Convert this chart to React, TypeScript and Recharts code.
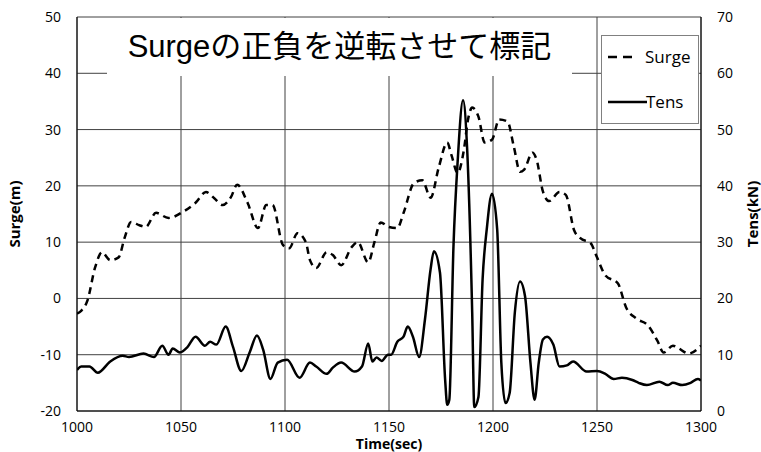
import React from "react"
import {
  LineChart,
  Line,
  XAxis,
  YAxis,
  CartesianGrid,
  Label,
} from "recharts"

// Surge (m), sign already flipped
const surgeTime = [
  1000, 1002, 1005, 1008.7, 1012, 1016, 1020, 1023, 1026, 1030, 1033, 1038, 1044, 1051, 1057, 1062,
  1066, 1070, 1074, 1077, 1082, 1087, 1091, 1094, 1099, 1102, 1106, 1110, 1112, 1115, 1120, 1123,
  1127, 1132, 1135, 1140, 1143, 1146, 1150, 1154, 1157, 1162, 1166, 1170, 1174, 1178, 1180, 1183,
  1186, 1188, 1190, 1193, 1196, 1199.5, 1203, 1207, 1210, 1213, 1215, 1219, 1221, 1224, 1227, 1232,
  1235, 1239, 1242, 1247, 1250, 1254, 1260, 1264, 1269, 1274.5, 1279, 1282, 1286.5, 1289, 1294, 1300,
]
const surgeValue = [
  -2.7, -2.2, -0.4, 5.5, 8.2, 6.8, 7.3, 10.9, 13.6, 13.0, 12.7, 15.2, 14.3, 15.4, 17, 18.9,
  17.8, 16.6, 18, 20.2, 17, 12.5, 16.6, 16.6, 9.5, 8.9, 11.6, 10, 6.8, 5.4, 8.2, 7.7,
  5.9, 9.1, 10, 6.4, 10, 13.5, 12.7, 12.5, 15.2, 20.5, 21, 17.9, 23.4, 27.7, 25.5, 22.3,
  26.4, 31.8, 33.9, 32.3, 27.7, 28.2, 31.8, 31.4, 27, 22.5, 22.9, 25.9, 24.6, 19, 17.3, 18.9,
  18.4, 12.1, 10.7, 9.8, 7.3, 4.1, 2.7, -1.6, -3.6, -4.8, -7.5, -9.6, -8.4, -8.8, -9.8, -8.4,
]

// Tension (kN)
const tensTime = [
  1000, 1002, 1006, 1010, 1016, 1022, 1025, 1032, 1037, 1041, 1044, 1046, 1049.5, 1053, 1057, 1061.5,
  1064, 1067, 1071.5, 1075, 1079, 1083, 1086.5, 1089.5, 1093, 1096.5, 1101, 1107, 1112, 1115, 1120, 1123,
  1127, 1133.5, 1137, 1140, 1142, 1144, 1146.5, 1149.5, 1151, 1154, 1157, 1159, 1161.5, 1164.5, 1167.3, 1170,
  1171.6, 1174.5, 1177, 1178, 1179, 1181, 1183, 1185.6, 1187.5, 1190, 1191, 1193, 1195, 1197, 1199.5, 1202,
  1204, 1206, 1208, 1210.5, 1213, 1215.4, 1218, 1220, 1222, 1224, 1226, 1229, 1232, 1235.5, 1238.5, 1245,
  1250, 1254, 1258, 1262, 1267, 1270, 1274, 1280, 1284, 1286.5, 1291, 1295, 1298.5, 1300,
]
const tensValue = [
  7.3, 7.9, 7.9, 6.8, 8.8, 9.8, 9.6, 10.2, 9.6, 11.6, 10, 11.1, 10.4, 11.3, 13.2, 11.6,
  12.3, 11.8, 15, 11.4, 7.1, 10.4, 13.4, 10.9, 5.7, 8.6, 9.1, 5.9, 8.6, 7.9, 6.6, 7.7,
  8.6, 7, 7.9, 12, 8.8, 9.5, 8.9, 10, 10, 12.3, 13.2, 15, 13.2, 9.6, 16.3, 25.2,
  28.4, 24.6, 5.5, 1.1, 2, 29.3, 44.3, 55.2, 47.1, 17.5, 0.7, 2.5, 23.4, 32.3, 38.6, 32.3,
  8.6, 1.4, 3.2, 17.5, 23, 20.4, 8.6, 2, 8.6, 12.7, 13.2, 11.8, 7.9, 8.1, 8.8, 7,
  7.1, 6.6, 5.7, 5.9, 5.5, 5, 4.6, 5.2, 4.6, 5, 4.6, 5.0, 5.7, 5.4,
]

const xTicks = [1000, 1050, 1100, 1150, 1200, 1250, 1300]
const surgeTicks = [-20, -10, 0, 10, 20, 30, 40, 50]
const tensTicks = [0, 10, 20, 30, 40, 50, 60, 70]

const legendItems = [
  { name: "Surge", dash: "9 6", len: 30, gap: 3 },
  { name: "Tens", dash: undefined, len: 40, gap: -6 },
]

const surgeData = surgeTime.map((t, i) => ({ time: t, surge: surgeValue[i] }))
const tensData = tensTime.map((t, i) => ({ time: t, tens: tensValue[i] }))

const font = "'Open Sans', 'Noto Sans', sans-serif"
const tickStyle = { fontSize: 14, fill: "#000", fontFamily: font }
const labelStyle = { fontSize: 15, fontWeight: 700, fill: "#000", fontFamily: font }

export default function App() {
  return (
    <div style={{ position: "absolute", left: 0, top: 0, width: 761, height: 452, background: "#fff" }}>
      <LineChart width={761} height={452} margin={{ top: 17, right: 0, bottom: 0, left: 7 }}>
        <CartesianGrid yAxisId="left" stroke="#404040" strokeWidth={1} />
        <XAxis
          type="number"
          dataKey="time"
          domain={[1000, 1300]}
          ticks={xTicks}
          allowDataOverflow
          height={41}
          tickSize={0}
          tickMargin={11}
          tick={tickStyle}
          axisLine={{ stroke: "#000" }}
        >
          <Label value="Time(sec)" position="insideBottom" offset={3} style={{ ...labelStyle, fontSize: 14 }} />
        </XAxis>
        <YAxis
          yAxisId="left"
          domain={[-20, 50]}
          ticks={surgeTicks}
          width={70}
          tickSize={0}
          tickMargin={16}
          tick={tickStyle}
          axisLine={{ stroke: "#000" }}
        >
          <Label value="Surge(m)" angle={-90} position="insideLeft" offset={8} style={{ ...labelStyle, textAnchor: "middle" }} />
        </YAxis>
        <YAxis
          yAxisId="right"
          orientation="right"
          domain={[0, 70]}
          ticks={tensTicks}
          width={60}
          tickSize={0}
          tickMargin={16}
          tick={tickStyle}
          axisLine={{ stroke: "#000" }}
        >
          <Label value="Tens(kN)" angle={-90} position="insideRight" offset={8} style={{ ...labelStyle, textAnchor: "middle" }} />
        </YAxis>
        <Line
          data={surgeData}
          yAxisId="left"
          dataKey="surge"
          name="Surge"
          type="monotone"
          stroke="#000"
          strokeWidth={2.5}
          strokeDasharray="7 5"
          dot={false}
          isAnimationActive={false}
        />
        <Line
          data={tensData}
          yAxisId="right"
          dataKey="tens"
          name="Tens"
          type="monotone"
          stroke="#000"
          strokeWidth={2.5}
          dot={false}
          isAnimationActive={false}
        />
      </LineChart>

      {/* title text box, white fill hides the grid underneath */}
      <div
        style={{
          position: "absolute",
          left: 107,
          top: 18,
          width: 465,
          height: 58,
          background: "#fff",
          textAlign: "center",
          lineHeight: "58px",
          fontSize: 31,
          whiteSpace: "nowrap",
          fontFamily: "'Liberation Sans', 'Noto Sans CJK JP', sans-serif",
          color: "#000",
        }}
      >
        Surgeの正負を逆転させて標記
      </div>

      {/* legend box */}
      <div
        style={{
          position: "absolute",
          left: 601,
          top: 35,
          width: 96,
          height: 87,
          border: "1px solid #808080",
          background: "#fff",
          fontFamily: font,
          fontSize: 17,
          color: "#000",
        }}
      >
        {legendItems.map((it, i) => (
          <div
            key={it.name}
            style={{ display: "flex", alignItems: "center", height: 23, marginTop: i === 0 ? 9 : 22 }}
          >
            <svg width={it.len + 5} height={10} style={{ marginLeft: 5, flexShrink: 0 }}>
              <line x1={1} y1={5} x2={it.len} y2={5} stroke="#000" strokeWidth={2.5} strokeDasharray={it.dash} />
            </svg>
            <span style={{ marginLeft: it.gap }}>{it.name}</span>
          </div>
        ))}
      </div>
    </div>
  )
}
